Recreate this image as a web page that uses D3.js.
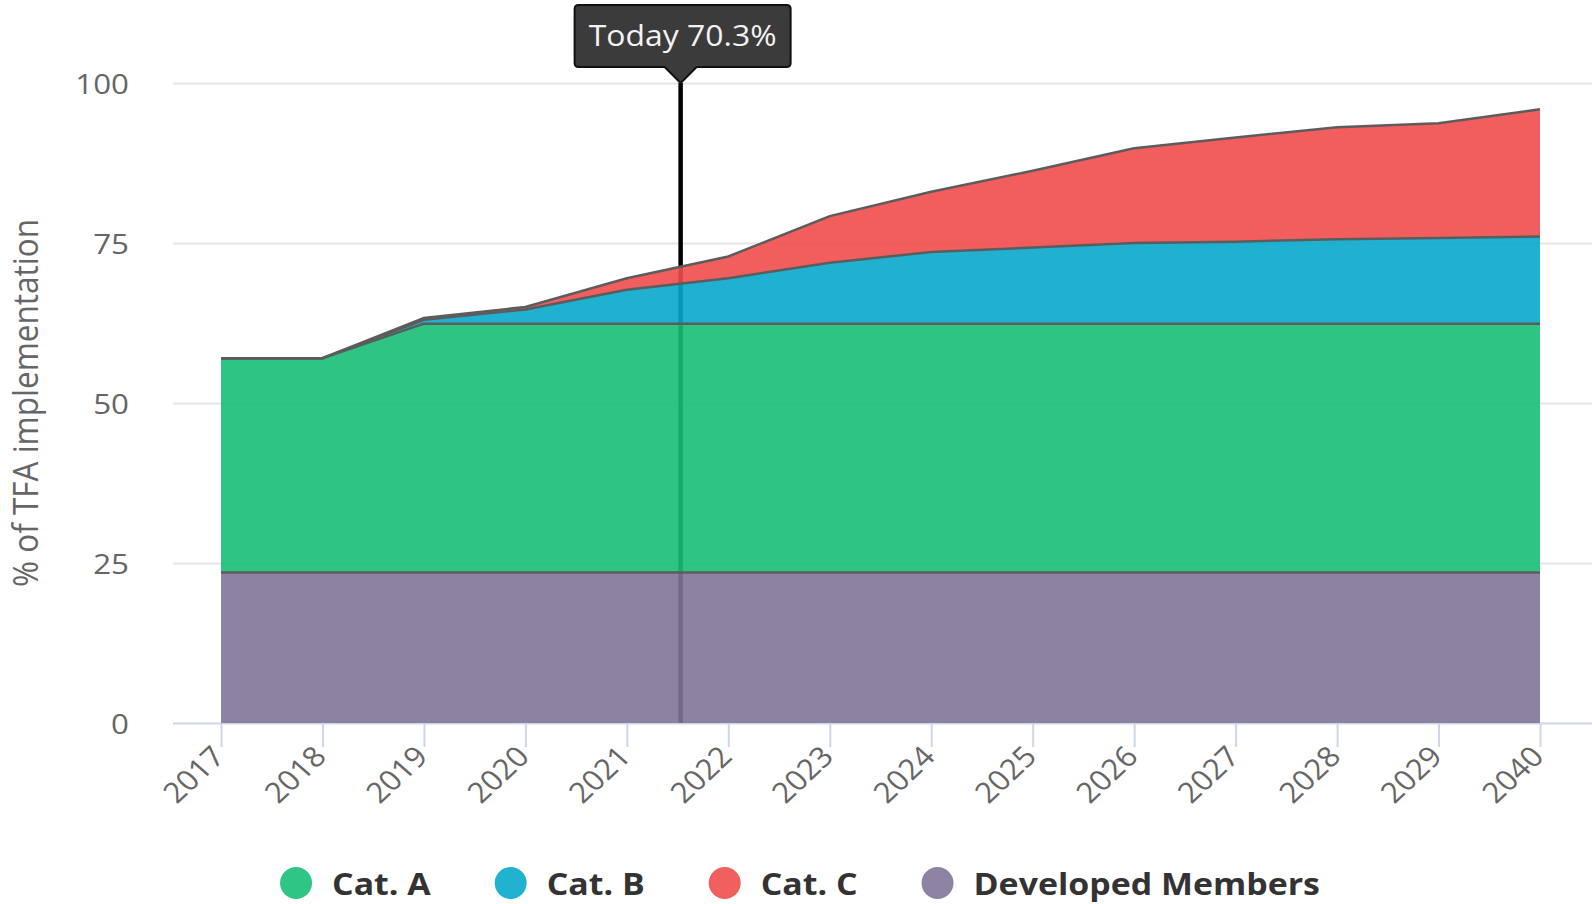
<!DOCTYPE html>
<html><head><meta charset="utf-8">
<script src="https://cdn.jsdelivr.net/npm/d3@7"></script>
<style>
body{margin:0;background:#fff}
svg{display:block;font-family:"Open Sans",sans-serif}
</style>
</head><body>
<svg id="c" width="1592" height="904"></svg>
<script>
// ---------- data ----------
const years = ["2017","2018","2019","2020","2021","2022","2023","2024","2025","2026","2027","2028","2029","2040"];
const developed = [23.5,23.5,23.5,23.5,23.5,23.5,23.5,23.5,23.5,23.5,23.5,23.5,23.5,23.5];
const catA = [33.5,33.5,38.9,38.9,38.9,38.9,38.9,38.9,38.9,38.9,38.9,38.9,38.9,38.9];
const catB = [0,0,0.6,2.2,5.3,7.1,9.5,11.2,11.9,12.6,12.8,13.2,13.4,13.6];
const catC = [0,0,0.3,0.4,1.8,3.4,7.3,9.4,12.0,14.8,16.3,17.5,17.9,19.9];
const yTicks = [0,25,50,75,100];
const seriesNames = ["Developed Members","Cat. A","Cat. B","Cat. C"];
const legendOrder = ["Cat. A","Cat. B","Cat. C","Developed Members"];
const todayLabel = "Today 70.3%";
const todayAfter = "2021";      // today lies between 2021 and 2022
const todayFraction = 0.53;

// ---------- style ----------
const colors = {"Cat. A":"#17bf77","Cat. B":"#07a9ca","Cat. C":"#f14d4d","Developed Members":"#7f7698"};
const legendColors = {"Cat. A":"#2ec585","Cat. B":"#20b2cf","Cat. C":"#f25f5f","Developed Members":"#8c84a2"};
const SX = 1.12; // horizontal text stretch

const svg = d3.select("#c");
const plotLeft = 173, plotRight = 1592;
const x = d3.scalePoint().domain(years).range([221, 1540]);
const y = d3.scaleLinear().domain([0,100]).range([723, 83]);

const rows = years.map((yr,i)=>({year:yr,"Developed Members":developed[i],"Cat. A":catA[i],"Cat. B":catB[i],"Cat. C":catC[i]}));
const stacked = d3.stack().keys(seriesNames)(rows);

// gridlines + y labels
const yAxis = svg.append("g").attr("transform",`translate(${plotLeft},0)`)
  .call(d3.axisLeft(y).tickValues(yTicks).tickSize(-(plotRight-plotLeft)).tickFormat(d3.format("d")));
yAxis.select(".domain").remove();
yAxis.selectAll(".tick line").attr("stroke","#e6e6e6").attr("stroke-width",2)
  .filter(d=>d===0).attr("stroke","#ccd6eb");
yAxis.selectAll(".tick text")
  .attr("x",null).attr("dy",null)
  .attr("transform","translate(-44,0) scale(" + SX + ",1)")
  .attr("dominant-baseline","central")
  .attr("text-anchor","end")
  .attr("fill","#666").attr("font-size",28).attr("font-family","Open Sans, sans-serif");

// today line (behind areas)
const step = x.step();
const tx = x(todayAfter) + todayFraction*step;
svg.append("line").attr("x1",tx).attr("x2",tx).attr("y1",y(100)).attr("y2",y(0))
  .attr("stroke","#000").attr("stroke-width",4.5);

// areas
const area = d3.area().x(d=>x(d.data.year)).y0(d=>y(d[0])).y1(d=>y(d[1]));
svg.append("g").selectAll("path").data(stacked).join("path")
  .attr("d",area).attr("fill",d=>colors[d.key]).attr("fill-opacity",0.9);
const topLine = d3.line().x(d=>x(d.data.year)).y(d=>y(d[1]));
svg.append("g").selectAll("path").data(stacked).join("path")
  .attr("d",topLine).attr("fill","none").attr("stroke","#5c5c5c").attr("stroke-width",2.5);

// x axis
const xAxis = svg.append("g").attr("transform",`translate(0,${y(0)})`)
  .call(d3.axisBottom(x).tickSize(24).tickSizeOuter(0));
xAxis.select(".domain").remove();
xAxis.selectAll(".tick line").attr("stroke","#ccd6eb").attr("stroke-width",2);
xAxis.selectAll(".tick text")
  .attr("y",null).attr("dy",null)
  .attr("transform","translate(5,35) scale(1.1,1) rotate(-46)")
  .attr("text-anchor","end")
  .attr("fill","#666").attr("font-size",28.5).attr("font-family","Open Sans, sans-serif");

// y title
svg.append("text").text("% of TFA implementation")
  .attr("transform",`translate(38,403) scale(${SX},1) rotate(-90)`)
  .attr("text-anchor","middle").attr("fill","#666").attr("font-size",31.5);

// tooltip
const bl = tx-106, br = tx+110, bt = 5, bb = 67, r = 4, py = y(100);
const tip = `M${bl+r},${bt} H${br-r} Q${br},${bt} ${br},${bt+r} V${bb-r} Q${br},${bb} ${br-r},${bb} H${tx+16} L${tx},${py} L${tx-16},${bb} H${bl+r} Q${bl},${bb} ${bl},${bb-r} V${bt+r} Q${bl},${bt} ${bl+r},${bt} Z`;
svg.append("path").attr("d",tip).attr("fill","#3b3b3b").attr("stroke","#111").attr("stroke-width",2);
svg.append("text").text(todayLabel)
  .attr("transform",`translate(${tx+2},46) scale(${SX},1)`)
  .attr("text-anchor","middle").attr("fill","#f3f3f3").attr("font-size",28.5);

// legend
const LX = 1.13;
const lg = svg.append("g");
let cx = 0;
legendOrder.forEach(name=>{
  const g = lg.append("g");
  g.append("circle").attr("cx",cx).attr("cy",0).attr("r",16).attr("fill",legendColors[name]);
  const t = g.append("text").text(name)
    .attr("transform",`translate(${cx+36},0) scale(${LX},1)`)
    .attr("dominant-baseline","central")
    .attr("font-weight","bold").attr("font-size",30).attr("fill","#333");
  const w = t.node().getComputedTextLength()*LX;
  cx = cx + 36 + w + 80;
});
const bb2 = lg.node().getBBox();
lg.attr("transform",`translate(${800 - (bb2.x + bb2.width/2)},883)`);
</script>
</body></html>
